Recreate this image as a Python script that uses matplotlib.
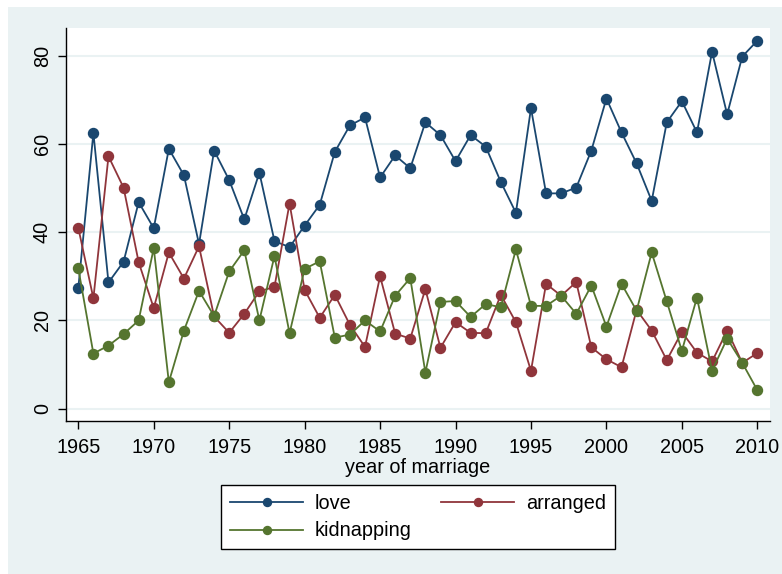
import numpy as np
import matplotlib
matplotlib.use('Agg')
import matplotlib.pyplot as plt
from matplotlib.patches import Rectangle

# data
years = list(range(1965, 2011))
love = [27.3, 62.5, 28.6, 33.3, 46.8, 40.9, 58.9, 52.9, 37.3, 58.5,
        51.8, 42.9, 53.5, 38.0, 36.6, 41.5, 46.2, 58.2, 64.2, 66.0,
        52.4, 57.4, 54.5, 64.9, 62.0, 56.1, 62.0, 59.4, 51.4, 44.4,
        68.1, 48.8, 48.8, 50.1, 58.5, 70.3, 62.6, 55.6, 47.1, 64.9,
        69.7, 62.6, 80.9, 66.7, 79.8, 83.4]
arranged = [41.0, 25.0, 57.2, 50.1, 33.2, 22.8, 35.4, 29.5, 36.8, 20.9,
            17.2, 21.5, 26.6, 27.6, 46.5, 26.9, 20.6, 25.8, 19.0, 14.0,
            30.0, 17.0, 15.9, 27.1, 13.8, 19.6, 17.2, 17.1, 25.8, 19.6,
            8.6, 28.3, 25.6, 28.7, 13.9, 11.2, 9.4, 22.4, 17.7, 11.0,
            17.4, 12.7, 10.7, 17.7, 10.4, 12.6]
kidnapping = [31.8, 12.5, 14.3, 16.9, 20.0, 36.4, 6.0, 17.7, 26.7, 21.0,
              31.1, 35.9, 20.0, 34.6, 17.1, 31.7, 33.4, 16.1, 16.8, 20.0,
              17.5, 25.6, 29.6, 8.2, 24.2, 24.4, 20.8, 23.7, 23.0, 36.1,
              23.3, 23.3, 25.6, 21.5, 27.9, 18.6, 28.3, 22.2, 35.4, 24.3,
              13.1, 25.2, 8.6, 15.9, 10.4, 4.2]
yticks = [0, 20, 40, 60, 80]
xticks = list(range(1965, 2011, 5))

bg = '#EAF2F3'
plt.rcParams['font.family'] = ['Liberation Sans', 'DejaVu Sans']
fs = 14.3

fig = plt.figure(figsize=(7.82, 5.74), dpi=100, facecolor='white')
# stata style outer region (white strip only at top and left)
fig.patches.append(Rectangle((8 / 782, -1), 2, 2 - 7 / 574, transform=fig.transFigure,
                             facecolor=bg, edgecolor='none', zorder=-10))
ax = fig.add_axes([65.7 / 782, 1 - 421 / 574, (770 - 65.7) / 782, (421 - 28) / 574])
ax.set_facecolor('white')

l1, = ax.plot(years, love, color='#1A476F', marker='o', ms=7.2, lw=1.3, label='love')
l2, = ax.plot(years, arranged, color='#90353B', marker='o', ms=7.2, lw=1.3, label='arranged')
l3, = ax.plot(years, kidnapping, color='#55752F', marker='o', ms=7.2, lw=1.3, label='kidnapping')

ax.set_xlim(1964.165, 2010.84)
ax.set_ylim(-2.79, 86.28)
ax.set_xticks(xticks)
ax.set_yticks(yticks)
for v in yticks:
    ax.axhline(v, color=bg, lw=1.5, zorder=0)

for s in ['top', 'right']:
    ax.spines[s].set_visible(False)
for s in ['left', 'bottom']:
    ax.spines[s].set_color('black')
    ax.spines[s].set_linewidth(1.0)
ax.tick_params(axis='both', direction='out', length=6, width=1, labelsize=fs, colors='black')
ax.tick_params(axis='x', pad=6)
ax.tick_params(axis='y', pad=4)
for lab in ax.get_yticklabels():
    lab.set_rotation(90)
    lab.set_va('center')
ax.set_xlabel('year of marriage', fontsize=fs, labelpad=1)

leg = fig.legend([l1, l3, l2], ['love', 'kidnapping', 'arranged'], ncol=2,
                 loc='center', bbox_to_anchor=(418 / 782, 1 - 517 / 574),
                 fontsize=fs, handlelength=3.69, handletextpad=0.58,
                 columnspacing=1.47, borderpad=0.45, labelspacing=0.45,
                 markerscale=0.8, fancybox=False, framealpha=1)
leg.get_frame().set_edgecolor('black')
leg.get_frame().set_linewidth(1.0)

fig.savefig('out.png', dpi=100, facecolor=fig.get_facecolor())
